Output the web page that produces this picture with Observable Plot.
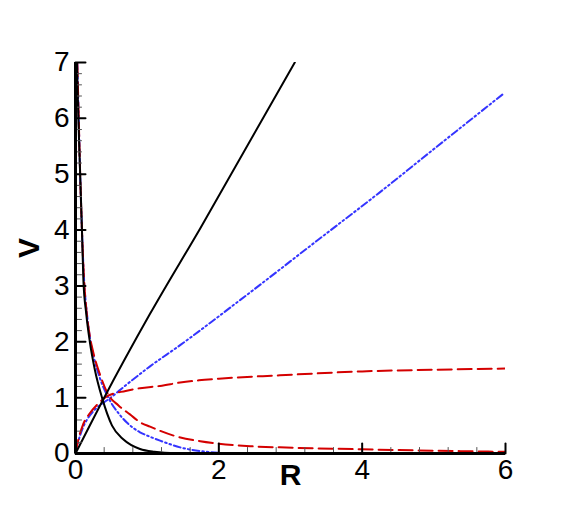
<!DOCTYPE html>
<html>
<head>
<meta charset="utf-8">
<script src="https://cdn.jsdelivr.net/npm/d3@7"></script>
<script src="https://cdn.jsdelivr.net/npm/@observablehq/plot@0.6"></script>
<style>
  html, body { margin: 0; padding: 0; background: #fff; }
  #chart { width: 575px; height: 511px; }
</style>
</head>
<body>
<div id="chart"></div>
<script>
// ---- data ----
const blackRiseR = [0, 0.38, 1.04, 1.74, 3.06];
const blackRiseV = [0, 0.95, 2.5, 4.03, 7.0];

const blackFallR = [0.02, 0.04, 0.065, 0.09, 0.11, 0.15, 0.2, 0.27, 0.37, 0.51, 0.67, 0.9, 1.1, 1.4, 2.0, 3.0, 4.0, 5.0, 6.0];
const blackFallV = [7.0, 6.0, 5.0, 4.0, 3.1, 2.5, 2.0, 1.5, 1.0, 0.5, 0.25, 0.08, 0.03, 0.005, 0, 0, 0, 0, 0];

const blueRiseR = [0, 0.04, 0.1, 0.2, 0.3, 0.47, 0.7, 1.04, 1.46, 2.3, 3.4, 4.25, 5.0, 5.98];
const blueRiseV = [0, 0.22, 0.45, 0.68, 0.82, 0.98, 1.22, 1.56, 1.94, 2.75, 3.84, 4.68, 5.45, 6.45];

const blueFallR = [0.025, 0.045, 0.065, 0.09, 0.12, 0.16, 0.21, 0.26, 0.34, 0.47, 0.6, 0.72, 0.9, 1.04, 1.18, 1.46, 1.83, 2.2, 3.0, 4.0, 5.0, 6.0];
const blueFallV = [7.0, 6.0, 5.0, 4.0, 3.1, 2.5, 2.0, 1.7, 1.35, 0.97, 0.72, 0.55, 0.38, 0.3, 0.23, 0.11, 0.03, 0.005, 0, 0, 0, 0];

const redRiseR = [0, 0.04, 0.1, 0.2, 0.3, 0.45, 0.7, 0.9, 1.18, 1.46, 1.72, 2.0, 2.85, 4.0, 5.0, 6.0];
const redRiseV = [0, 0.25, 0.5, 0.72, 0.87, 1.03, 1.12, 1.17, 1.21, 1.27, 1.31, 1.34, 1.40, 1.47, 1.5, 1.52];

const redFallR = [0.025, 0.045, 0.065, 0.09, 0.12, 0.15, 0.2, 0.25, 0.34, 0.45, 0.6, 0.76, 0.9, 1.04, 1.37, 1.74, 1.97, 2.44, 2.85, 4.0, 5.0, 6.0];
const redFallV = [7.0, 6.0, 5.0, 4.0, 3.1, 2.6, 2.1, 1.8, 1.42, 1.07, 0.86, 0.7, 0.56, 0.48, 0.32, 0.22, 0.18, 0.13, 0.11, 0.075, 0.05, 0.03];

const xMajor = [0, 2, 4, 6];
const xMinor = [0.4, 0.8, 1.2, 1.6, 2.4, 2.8, 3.2, 3.6, 4.4, 4.8, 5.2, 5.6];
const yMajor = [0, 1, 2, 3, 4, 5, 6, 7];
const yMinor = [0.2, 0.4, 0.6, 0.8, 1.2, 1.4, 1.6, 1.8, 2.2, 2.4, 2.6, 2.8, 3.2, 3.4, 3.6, 3.8,
                4.2, 4.4, 4.6, 4.8, 5.2, 5.4, 5.6, 5.8, 6.2, 6.4, 6.6, 6.8];

const xLabel = "R";
const yLabel = "V";

// ---- build tables ----
const pts = (R, V) => R.map((r, i) => ({R: r, V: V[i]}));
const blackRise = pts(blackRiseR, blackRiseV);
const blackFall = pts(blackFallR, blackFallV);
const blueRise = pts(blueRiseR, blueRiseV);
const blueFall = pts(blueFallR, blueFallV);
const redRise = pts(redRiseR, redRiseV);
const redFall = pts(redFallR, redFallV);

const RED = "#d40000";
const BLUE = "#3434ff";
const tickFont = "'Liberation Sans', Arial, sans-serif";

const blueDash = "7,3,1.6,3,1.6,3";
const redDash = "14,6";

// straight tick shape for inward ticks
const tickShape = {draw(context, l) { context.moveTo(0, 0); context.lineTo(0, -l); }};

const chart = Plot.plot({
  width: 575,
  height: 511,
  marginLeft: 75,
  marginRight: 70,
  marginTop: 62,
  marginBottom: 58,
  style: {fontFamily: tickFont, background: "#fff"},
  x: {domain: [0, 6], axis: null},
  y: {domain: [0, 7], axis: null},
  marks: [
    // curves
    Plot.line(blueFall, {x: "R", y: "V", stroke: BLUE, strokeWidth: 2, strokeDasharray: blueDash, curve: "monotone-x", clip: true}),
    Plot.line(blueRise, {x: "R", y: "V", stroke: BLUE, strokeWidth: 2, strokeDasharray: blueDash, curve: "monotone-x", clip: true}),
    Plot.line(redFall, {x: "R", y: "V", stroke: RED, strokeWidth: 2, strokeDasharray: redDash, curve: "monotone-x", clip: true}),
    Plot.line(redRise, {x: "R", y: "V", stroke: RED, strokeWidth: 2, strokeDasharray: redDash, curve: "monotone-x", clip: true}),
    Plot.line(blackFall, {x: "R", y: "V", stroke: "black", strokeWidth: 2, curve: "monotone-x", clip: true}),
    Plot.line(blackRise, {x: "R", y: "V", stroke: "black", strokeWidth: 2, curve: "monotone-x", clip: true}),
    // minor ticks (inward)
    Plot.vector(xMinor, {x: d => d, y: 0, length: 6, rotate: 0, anchor: "start", shape: tickShape, stroke: "#555", strokeWidth: 1}),
    Plot.vector(yMinor, {x: 0, y: d => d, length: 6, rotate: 90, anchor: "start", shape: tickShape, stroke: "#555", strokeWidth: 1}),
    // major ticks (inward)
    Plot.vector(xMajor, {x: d => d, y: 0, length: 10, rotate: 0, anchor: "start", shape: tickShape, stroke: "black", strokeWidth: 2}),
    Plot.vector(yMajor, {x: 0, y: d => d, length: 10, rotate: 90, anchor: "start", shape: tickShape, stroke: "black", strokeWidth: 2}),
    // tick labels
    Plot.axisX(xMajor, {tickSize: 0, tickPadding: 6, fontSize: 28, fill: "black", label: null, tickFormat: d => String(d)}),
    Plot.axisY(yMajor, {tickSize: 0, tickPadding: 6, fontSize: 28, fill: "black", label: null, tickFormat: d => String(d)}),
    // axis lines
    Plot.ruleY([0], {stroke: "black", strokeWidth: 3}),
    Plot.ruleX([0], {stroke: "black", strokeWidth: 3}),
    // axis titles
    Plot.text([yLabel], {text: d => d, frameAnchor: "left", dx: -46, rotate: -90, fontSize: 30, fontWeight: "bold", fill: "black"}),
    Plot.text([xLabel], {text: d => d, frameAnchor: "bottom", dy: 31, fontSize: 30, fontWeight: "bold", fill: "black"})
  ]
});

document.getElementById("chart").appendChild(chart);
</script>
</body>
</html>
